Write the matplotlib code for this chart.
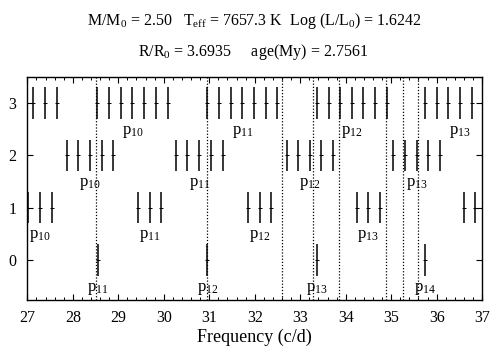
import matplotlib
matplotlib.use("Agg")
import matplotlib.pyplot as plt
from matplotlib.ticker import MultipleLocator

plt.rcParams['font.family'] = ['Liberation Serif', 'DejaVu Serif']
plt.rcParams['mathtext.fontset'] = 'custom'
plt.rcParams['mathtext.rm'] = 'Liberation Serif'
plt.rcParams['mathtext.it'] = 'Liberation Serif'
plt.rcParams['mathtext.default'] = 'regular'

# mode frequencies (c/d) for each degree l
freq_l3 = [27.13, 27.39, 27.65,
           28.53, 28.80, 29.05, 29.31, 29.56, 29.83, 30.09,
           30.96, 31.22, 31.48, 31.73, 31.99, 32.25, 32.50,
           33.37, 33.63, 33.88, 34.13, 34.38, 34.64, 34.90,
           35.74, 36.00, 36.25, 36.51, 36.77]
freq_l2 = [27.87, 28.12, 28.38, 28.64, 28.88,
           30.28, 30.52, 30.78, 31.04, 31.31,
           32.70, 32.95, 33.21, 33.46, 33.71,
           35.04, 35.30, 35.56, 35.81, 36.07]
freq_l1 = [27.02, 27.28, 27.54,
           29.44, 29.70, 29.95,
           31.86, 32.11, 32.36,
           34.24, 34.49, 34.75,
           36.60, 36.85]
freq_l0 = [28.55, 30.96, 33.36, 35.74]

# observed frequencies (dotted lines)
observed = [28.50, 30.94, 32.61, 33.28, 33.86, 34.88, 35.27, 35.60]

# mode labels: degree, radial order, frequency
label_l = [3, 3, 3, 3, 2, 2, 2, 2, 1, 1, 1, 1, 0, 0, 0, 0]
label_n = [10, 11, 12, 13, 10, 11, 12, 13, 10, 11, 12, 13, 11, 12, 13, 14]
label_f = [29.31, 31.73, 34.13, 36.51,
           28.38, 30.78, 33.21, 35.56,
           27.28, 29.70, 32.11, 34.49,
           28.55, 30.96, 33.36, 35.74]

title1 = r'M/M$_0$ = 2.50   T$_{eff}$ = 7657.3 K  Log (L/L$_0$) = 1.6242'
title2 = r'R/R$_0$ = 3.6935     age(My) = 2.7561'

fig = plt.figure(figsize=(4.92, 3.51), dpi=100)
ax = fig.add_axes([0.0555, 0.145, 0.9245, 0.636])

for f in observed:
    ax.axvline(f, color='black', lw=0.9, ls=(0, (1, 1.5)))

for l, freqs in [(3, freq_l3), (2, freq_l2), (1, freq_l1), (0, freq_l0)]:
    ax.vlines(freqs, l - 0.3, l + 0.3, color='black', lw=1.1)
    ax.plot(freqs, [l] * len(freqs), ls='none', marker='_', ms=2.2,
            mew=0.7, color='black')

for l, n, f in zip(label_l, label_n, label_f):
    ax.text(f, l - 0.55, 'p$_{%d}$' % n, ha='center', va='center',
            fontsize=12)

ax.set_xlim(27, 37)
ax.set_ylim(-0.77, 3.5)
ax.set_xticks(range(27, 38))
ax.xaxis.set_minor_locator(MultipleLocator(0.2))
ax.set_yticks([0, 1, 2, 3])
ax.tick_params(which='both', direction='in', top=True, right=True,
               labelsize=11.5)
ax.tick_params(which='major', length=4, width=0.8)
ax.tick_params(which='minor', length=2, width=0.7)
ax.tick_params(axis='x', pad=7)
ax.tick_params(axis='y', pad=8)
for s in ax.spines.values():
    s.set_linewidth(1.0)
ax.set_xlabel('Frequency (c/d)', fontsize=13, labelpad=2)

fig.text(0.517, 0.94, title1, ha='center', va='center', fontsize=11.5)
fig.text(0.514, 0.852, title2, ha='center', va='center', fontsize=11.5)

fig.savefig('out.png', dpi=100)
